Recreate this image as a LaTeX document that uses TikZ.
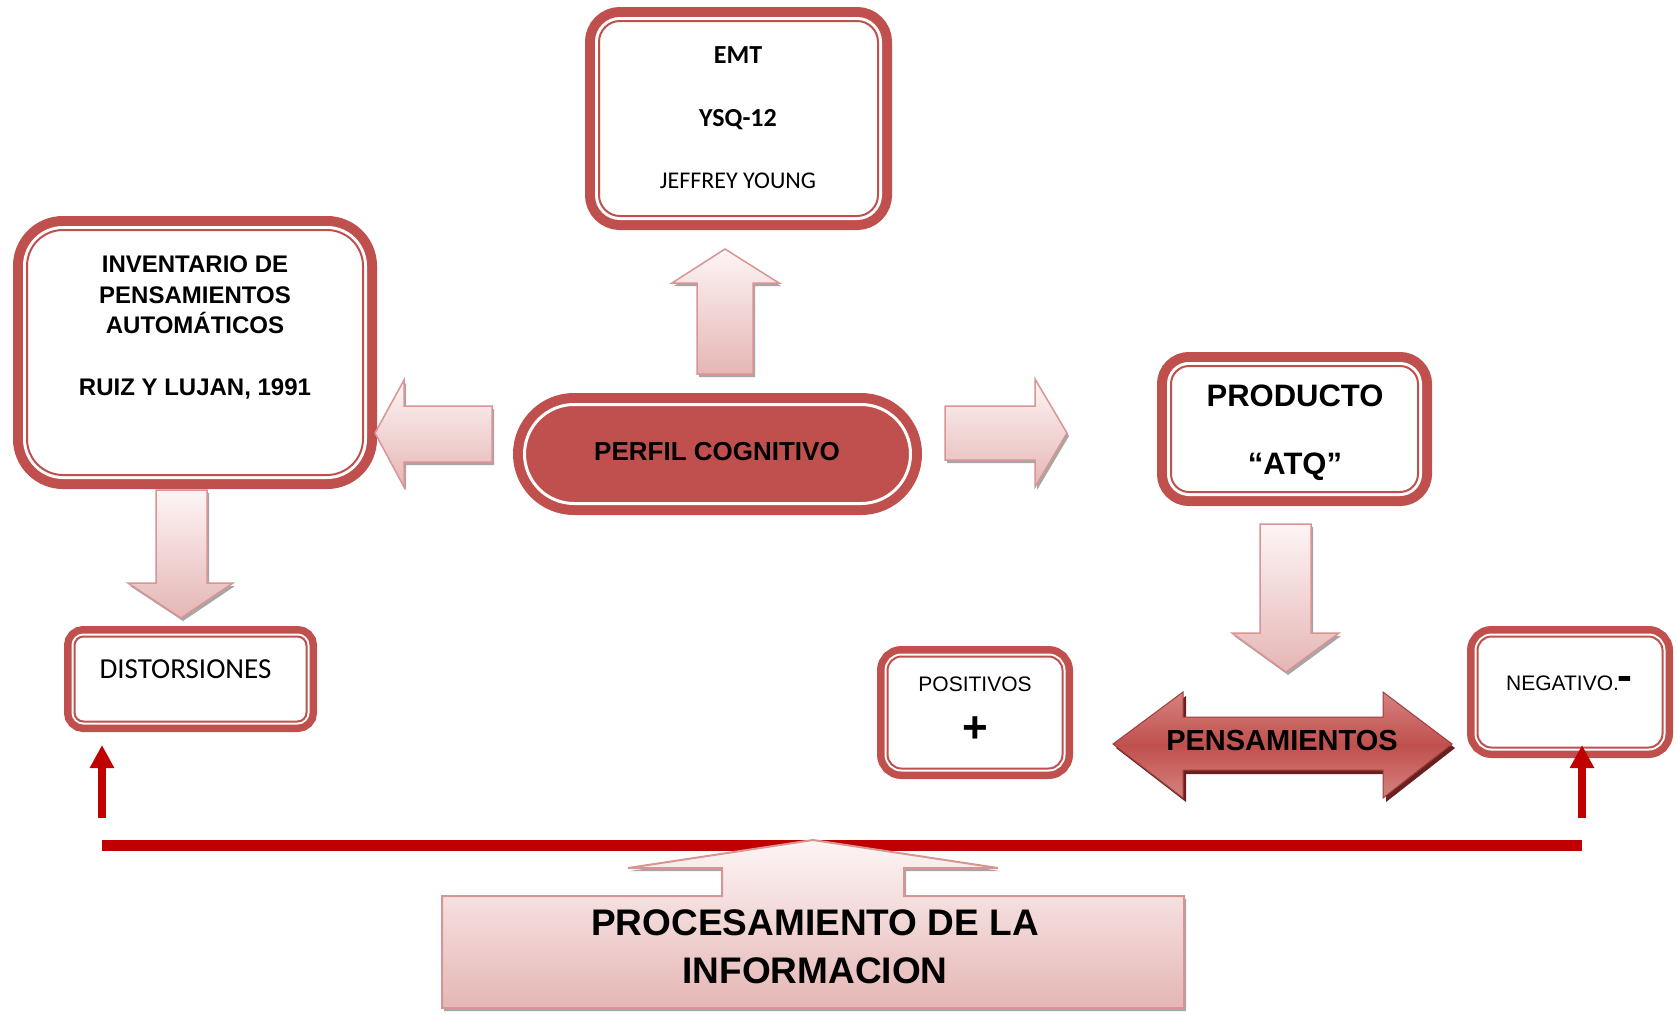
\documentclass[tikz,border=0pt]{standalone}
\usepackage{fontspec}
\setmainfont{Liberation Sans}
\newfontfamily\calibri{Carlito}
\usetikzlibrary{arrows.meta}
\definecolor{rojoCaja}{RGB}{192,80,77}
\definecolor{rojoLinea}{RGB}{192,0,0}
\definecolor{rosaBorde}{RGB}{217,149,148}
\definecolor{rosaClaro}{RGB}{253,245,245}
\definecolor{rosaFondo}{RGB}{229,182,181}
\definecolor{rojoBrillo}{RGB}{214,130,128}
\definecolor{rojoSombra}{RGB}{105,32,30}

\begin{document}
\begin{tikzpicture}[x=1pt, y=-1pt,
	caja/.style={draw=rojoCaja, fill=white, line width=2pt, inner sep=0pt, outer sep=0pt,
		preaction={draw=rojoCaja, line width=28pt},
		preaction={draw=white, line width=8pt}},
	cajita/.style={draw=rojoCaja, fill=white, line width=2pt, inner sep=0pt, outer sep=0pt,
		preaction={draw=rojoCaja, line width=21pt},
		preaction={draw=white, line width=6pt}},
	perfil/.style={fill=rojoCaja, draw=white, line width=3pt, inner sep=0pt, outer sep=0pt,
		preaction={draw=rojoCaja, line width=23pt}},
	flechaRosa/.style={draw=rosaBorde, line width=1.5pt, top color=rosaClaro, bottom color=rosaFondo,
		preaction={fill=black!35, transform canvas={shift={(2,3)}}}},
	flechaDoble/.style={draw=rojoCaja!80!black, line width=1pt, top color=rojoBrillo, bottom color=rojoBrillo,
		middle color=rojoCaja, preaction={fill=rojoSombra, transform canvas={shift={(3,4)}}}},
	flechaFina/.style={draw=rojoLinea, line width=8pt, -{Triangle[length=23pt,width=23pt]}},
	tArial/.style={anchor=base, inner sep=0pt, font=\fontsize{#1}{#1}\selectfont},
	tArialB/.style={anchor=base, inner sep=0pt, font=\bfseries\fontsize{#1}{#1}\selectfont},
	tCal/.style={anchor=base, inner sep=0pt, font=\calibri\fontsize{#1}{#1}\selectfont},
	tCalB/.style={anchor=base, inner sep=0pt, font=\calibri\bfseries\fontsize{#1}{#1}\selectfont}]
	\useasboundingbox (0,0) rectangle (1677,1013);
	\fill[white] (0,0) rectangle (1677,1013);

	% cajas
	\node[caja, minimum width=279pt, minimum height=195pt, rounded corners=21pt] (emt) at (738.5,118.5) {};
	\node[caja, minimum width=336pt, minimum height=245pt, rounded corners=36pt] (inv) at (195,352.5) {};
	\node[caja, minimum width=247pt, minimum height=126pt, rounded corners=18pt] (prod) at (1294.5,429) {};
	\node[cajita, minimum width=232pt, minimum height=85pt, rounded corners=9pt] (dist) at (190.5,679) {};
	\node[cajita, minimum width=175pt, minimum height=112pt, rounded corners=14pt] (pos) at (975,712.5) {};
	\node[cajita, minimum width=185pt, minimum height=111pt, rounded corners=14pt] (neg) at (1570,692) {};
	\node[perfil, minimum width=386pt, minimum height=99pt, rounded corners=49.5pt] (perf) at (717.5,454) {};

	% flechas rosadas
	\draw[flechaRosa] (697,374) -- (697,283) -- (672,283) -- (725,249) -- (779,283) -- (753,283) -- (753,374) -- cycle;
	\draw[flechaRosa] (492,406) -- (404,406) -- (404,380) -- (375,433) -- (404,487) -- (404,462) -- (492,462) -- cycle;
	\draw[flechaRosa] (945,406) -- (1035,406) -- (1035,379) -- (1067,433) -- (1035,487) -- (1035,460) -- (945,460) -- cycle;
	\draw[flechaRosa] (156,490) -- (207,490) -- (207,583) -- (233,583) -- (181,618) -- (128,583) -- (156,583) -- cycle;
	\draw[flechaRosa] (1260,524) -- (1311,524) -- (1311,633) -- (1339,633) -- (1286,672) -- (1232,633) -- (1260,633) -- cycle;

	% pensamientos
	\draw[flechaDoble] (1113,744) -- (1183,692) -- (1183,717) -- (1383,717) -- (1383,692) -- (1452,744)
		-- (1383,798) -- (1383,770) -- (1183,770) -- (1183,798) -- cycle;

	% linea roja
	\coordinate (lineaIzq) at (102,845);
	\coordinate (lineaDer) at (1582,845);
	\coordinate (baseIzq) at (102,818);
	\coordinate (baseDer) at (1582,818);
	\draw[rojoLinea, line width=11pt] (lineaIzq) -- (lineaDer);
	\draw[flechaFina, shorten >=23.5pt] (baseIzq) -- (baseIzq |- dist.south);
	\draw[flechaFina, shorten >=-2.5pt] (baseDer) -- (baseDer |- neg.south);

	% procesamiento
	\draw[flechaRosa, line width=2pt] (442,896) -- (722,896) -- (722,868) -- (628,868) -- (813,840) -- (998,868)
		-- (904,868) -- (904,896) -- (1184,896) -- (1184,1008) -- (442,1008) -- cycle;

	% textos
	\node[tCalB=26] (tEmt) at (738,63) {EMT};
	\node[tCalB=26] (tYsq) at (738,126) {YSQ-12};
	\node[tCal=24] (tYoung) at (738,188) {JEFFREY YOUNG};
	\node[tArialB=24] (tInv1) at (195,272) {INVENTARIO DE};
	\node[tArialB=24] (tInv2) at (195,303) {PENSAMIENTOS};
	\node[tArialB=24] (tInv3) at (195,333.5) {AUTOMÁTICOS};
	\node[tArialB=24] (tInv4) at (195,395.5) {RUIZ Y LUJAN, 1991};
	\node[tArialB=26] (tPerf) at (717,460) {PERFIL COGNITIVO};
	\node[tArialB=31] (tProd1) at (1295,406) {PRODUCTO};
	\node[tArialB=31] (tProd2) at (1295,474) {“ATQ”};
	\node[tCal=29] (tDist) at (185.5,678) {DISTORSIONES};
	\node[tArial=21] (tPos) at (975,691.5) {POSITIVOS};
	\node[tArialB=44] (tMas) at (975,742.5) {+};
	\node[tArial=21] (tNeg) at (1569,690.5) {NEGATIVO.\raisebox{-2pt}{\scalebox{1.1}[2.4]{\bfseries –}}};
	\node[tArialB=29] (tPens) at (1282,750.5) {PENSAMIENTOS};
	\node[tArialB=37] (tProc1) at (815,935) {PROCESAMIENTO DE LA};
	\node[tArialB=37] (tProc2) at (815,983) {INFORMACION};
\end{tikzpicture}
\end{document}
